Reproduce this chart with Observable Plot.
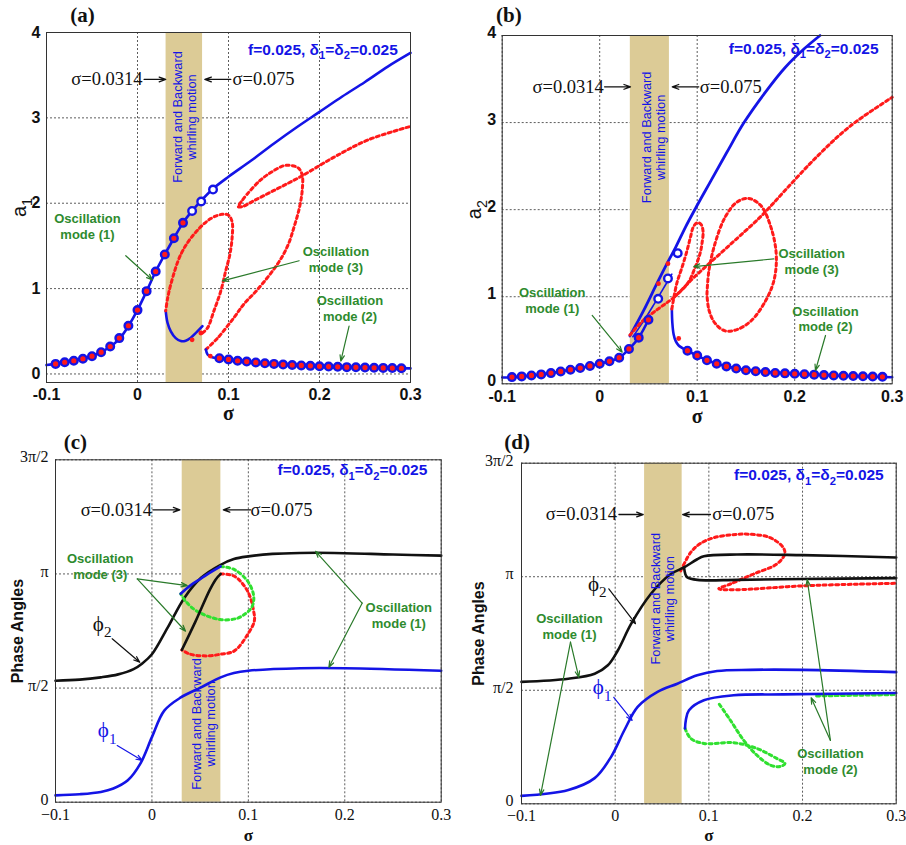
<!DOCTYPE html>
<html><head><meta charset="utf-8">
<script src="https://cdn.jsdelivr.net/npm/d3@7"></script>
<script src="https://cdn.jsdelivr.net/npm/@observablehq/plot@0.6"></script>
<style>
html,body{margin:0;padding:0;background:#fff;}
#fig{position:relative;width:906px;height:845px;overflow:hidden;background:#fff;}
#fig svg{position:absolute;}
</style></head><body><div id="fig"></div>
<script>
// ---------- ticks ----------
const sigmaTicks = [-0.1, 0, 0.1, 0.2, 0.3];
const sigmaLabelsSans = ["-0.1", "0", "0.1", "0.2", "0.3"];
const sigmaLabelsSerif = ["\u22120.1", "0", "0.1", "0.2", "0.3"];
const ampTicks = [0, 1, 2, 3, 4];
const ampLabels = ["0", "1", "2", "3", "4"];
const phaseTicks = [0, 0.5, 1, 1.5]; // multiples of π
const phaseLabels = ["0", "π/2", "π", "3π/2"];
const whirlBand = [0.0314, 0.0715];

// ---------- panel (a): a1 vs sigma ----------
const a1Upper = [[-0.1,0.105],[-0.09,0.118],[-0.08,0.137],[-0.07,0.157],[-0.06,0.18],[-0.05,0.21],[-0.04,0.255],[-0.03,0.318],[-0.02,0.41],[-0.01,0.56],[0,0.75],[0.01,0.97],[0.02,1.2],[0.03,1.4],[0.04,1.59],[0.05,1.77],[0.06,1.91],[0.07,2.03],[0.083,2.17],[0.1,2.31],[0.125,2.5],[0.15,2.7],[0.175,2.89],[0.2,3.07],[0.225,3.25],[0.25,3.42],[0.275,3.6],[0.3,3.76]];
const a1IsolaStable = [[0.031,0.74],[0.033,0.6],[0.0366,0.5],[0.042,0.42],[0.0476,0.385],[0.053,0.39],[0.0586,0.425],[0.065,0.49],[0.0714,0.56]];
const a1IsolaUnstable = [[0.0714,0.48],[0.077,0.54],[0.084,0.74],[0.0915,0.97],[0.097,1.21],[0.1015,1.4],[0.104,1.6],[0.104,1.78],[0.1,1.86],[0.093,1.87],[0.0805,1.82],[0.0623,1.64],[0.0476,1.4],[0.0366,1.05],[0.033,0.88],[0.031,0.74]];
const a1FoldUnstable = [[0.0752,0.287],[0.088,0.42],[0.106,0.66],[0.117,0.82],[0.132,0.99],[0.154,1.29],[0.165,1.5],[0.172,1.72],[0.178,1.95],[0.181,2.15],[0.181,2.33],[0.177,2.41],[0.17,2.44],[0.161,2.44],[0.148,2.37],[0.135,2.27],[0.12,2.1],[0.1135,2.01],[0.1106,1.96],[0.115,1.96],[0.128,2.03],[0.15,2.15],[0.179,2.31],[0.216,2.54],[0.253,2.74],[0.3,2.9]];
const a1LowerStable = [[0.0752,0.287],[0.077,0.228],[0.082,0.196],[0.09,0.182],[0.1,0.17],[0.12,0.145],[0.15,0.118],[0.2,0.09],[0.25,0.075],[0.3,0.065]];
const a1MarksFilled = [[-0.09,0.118],[-0.08,0.137],[-0.07,0.155],[-0.06,0.178],[-0.05,0.208],[-0.04,0.255],[-0.03,0.322],[-0.02,0.42],[-0.01,0.565],[0,0.748],[0.01,0.97],[0.02,1.2],[0.03,1.4],[0.04,1.59],[0.05,1.77]];
const a1MarksOpen = [[0.06,1.91],[0.07,2.02],[0.083,2.16]];
const a1MarksMode2 = [[0.09,0.185],[0.1,0.17],[0.11,0.155],[0.12,0.145],[0.13,0.135],[0.14,0.125],[0.15,0.118],[0.16,0.11],[0.17,0.105],[0.18,0.1],[0.19,0.095],[0.2,0.09],[0.21,0.087],[0.22,0.084],[0.23,0.08],[0.24,0.078],[0.25,0.075],[0.26,0.073],[0.27,0.071],[0.28,0.069],[0.29,0.067]];
const a1RedPoints = [[0.06,0.4],[0.0696,0.48],[0.08,0.21]];

// ---------- panel (b): a2 vs sigma ----------
const a2LowerRise = [[-0.1,0.072],[-0.09,0.077],[-0.08,0.085],[-0.07,0.096],[-0.06,0.108],[-0.05,0.123],[-0.04,0.142],[-0.03,0.162],[-0.02,0.181],[-0.01,0.205],[0,0.23],[0.01,0.258],[0.02,0.3],[0.03,0.4],[0.04,0.53],[0.05,0.735]];
const a2Thin = [[0.034,0.54],[0.045,0.72],[0.055,0.9],[0.064,1.07],[0.074,1.26]];
const a2Upper = [[0.031,0.55],[0.045,0.84],[0.0586,1.15],[0.069,1.38],[0.078,1.57],[0.088,1.8],[0.1,2.05],[0.114,2.33],[0.13,2.65],[0.148,3.0],[0.17,3.35],[0.19,3.63],[0.21,3.85],[0.226,4.0]];
const a2LowerStable = [[0.074,0.86],[0.0745,0.7],[0.0758,0.57],[0.078,0.49],[0.081,0.44],[0.0896,0.38],[0.1,0.325],[0.11,0.27],[0.12,0.232],[0.13,0.2],[0.15,0.158],[0.2,0.115],[0.25,0.092],[0.3,0.075]];
const a2FoldUnstable = [[0.074,0.86],[0.079,1.15],[0.0845,1.34],[0.0896,1.53],[0.093,1.68],[0.096,1.8],[0.1,1.85],[0.104,1.83],[0.106,1.75],[0.105,1.62],[0.103,1.5],[0.098,1.34],[0.09,1.15],[0.0758,0.99]];
const a2LongUnstable = [[0.031,0.56],[0.0448,0.73],[0.06,0.86],[0.0758,0.99],[0.0965,1.22],[0.131,1.57],[0.166,1.93],[0.19,2.22],[0.222,2.6],[0.257,2.96],[0.3,3.29]];
const a2Isola = [[0.11,1.03],[0.112,1.3],[0.118,1.6],[0.128,1.9],[0.14,2.08],[0.152,2.13],[0.165,2.05],[0.175,1.82],[0.181,1.5],[0.179,1.2],[0.17,0.95],[0.155,0.72],[0.14,0.62],[0.128,0.61],[0.118,0.7],[0.112,0.85],[0.11,1.03]];
const a2MarksFilled = [[-0.09,0.077],[-0.08,0.085],[-0.07,0.096],[-0.06,0.108],[-0.05,0.123],[-0.04,0.142],[-0.03,0.162],[-0.02,0.181],[-0.01,0.205],[0,0.23],[0.01,0.258],[0.02,0.3],[0.03,0.4],[0.04,0.53],[0.05,0.735]];
const a2MarksOpen = [[0.06,0.976],[0.07,1.21],[0.08,1.5]];
const a2MarksMode2 = [[0.09,0.38],[0.1,0.325],[0.11,0.27],[0.12,0.23],[0.13,0.2],[0.14,0.175],[0.15,0.155],[0.16,0.145],[0.17,0.135],[0.18,0.125],[0.19,0.12],[0.2,0.115],[0.21,0.11],[0.22,0.105],[0.23,0.1],[0.24,0.096],[0.25,0.092],[0.26,0.089],[0.27,0.086],[0.28,0.083],[0.29,0.08]];
const a2RedPoints = [[0.0603,1.15],[0.07,1.38],[0.081,0.52]];

// ---------- panel (c): phase angles (units of π) ----------
const cPhi2 = [[-0.1,0.532],[-0.075,0.537],[-0.053,0.547],[-0.035,0.56],[-0.019,0.583],[-0.01,0.608],[0,0.648],[0.0163,0.765],[0.0336,0.895],[0.051,0.983],[0.0713,1.04],[0.085,1.065],[0.1,1.077],[0.125,1.088],[0.154,1.092],[0.189,1.092],[0.25,1.085],[0.3,1.08]];
const cPhi1 = [[-0.1,0.03],[-0.075,0.035],[-0.053,0.045],[-0.04,0.06],[-0.025,0.096],[-0.012,0.169],[0,0.285],[0.0128,0.401],[0.03,0.459],[0.051,0.503],[0.0713,0.547],[0.085,0.566],[0.1,0.576],[0.154,0.587],[0.2,0.587],[0.3,0.576]];
const cBlueArc = [[0.0298,0.913],[0.04,0.95],[0.051,0.98],[0.062,1.01],[0.0713,1.033]];
const cBlackArc = [[0.031,0.667],[0.045,0.79],[0.06,0.93],[0.066,0.975],[0.0713,1.0]];
const cGreenLoop = [[0.0713,1.033],[0.0855,1.019],[0.0993,0.968],[0.1053,0.91],[0.105,0.87],[0.102,0.845],[0.095,0.82],[0.088,0.805],[0.0708,0.8],[0.0466,0.837],[0.035,0.88],[0.0298,0.913]];
const cRedLoop = [[0.0713,1.0],[0.0855,0.99],[0.0993,0.924],[0.1055,0.837],[0.1062,0.794],[0.0993,0.735],[0.0855,0.663],[0.0708,0.648],[0.0578,0.641],[0.04,0.648],[0.031,0.667]];

// ---------- panel (d): phase angles (units of π) ----------
const dPhi2 = [[-0.1,0.537],[-0.05,0.551],[-0.0219,0.573],[-0.0078,0.61],[0.0028,0.675],[0.017,0.792],[0.038,0.924],[0.0594,1.012],[0.0735,1.041],[0.0876,1.077],[0.0947,1.09],[0.13,1.098],[0.2,1.095],[0.3,1.085]];
const dPhi2Lower = [[0.0735,1.041],[0.075,1.01],[0.077,0.997],[0.0877,0.986],[0.13,0.986],[0.2,0.99],[0.3,0.994]];
const dRedLoop = [[0.07,1.026],[0.0806,1.107],[0.0905,1.145],[0.1053,1.172],[0.125,1.185],[0.144,1.187],[0.1654,1.172],[0.1795,1.128],[0.181,1.1],[0.1725,1.056],[0.1477,1.012],[0.123,0.968],[0.1106,0.947],[0.13,0.943],[0.2007,0.96],[0.3,0.971]];
const dPhi1 = [[-0.1,0.035],[-0.05,0.061],[-0.0219,0.113],[-0.0042,0.208],[0.0099,0.325],[0.024,0.427],[0.0452,0.493],[0.0664,0.529],[0.0876,0.566],[0.1088,0.585],[0.144,0.59],[0.2,0.59],[0.3,0.58]];
const dPhi1Lower = [[0.0746,0.332],[0.0755,0.37],[0.0788,0.412],[0.0947,0.456],[0.1265,0.478],[0.1795,0.482],[0.3,0.488]];
const dGreenLoop = [[0.0746,0.332],[0.0806,0.288],[0.0947,0.266],[0.1265,0.269],[0.151,0.244],[0.1724,0.2],[0.1813,0.178],[0.176,0.164],[0.1654,0.171],[0.151,0.215],[0.137,0.281],[0.123,0.368],[0.1106,0.442]];
const dGreenRight = [[0.215,0.475],[0.3,0.481]];

// ---------- styling ----------
const BLUE = "#1414e6", RED = "#ff1a1a", GREEN_CURVE = "#30e030", TEXT_GREEN = "#2e8b2e",
      ARROW_GREEN = "#2a7a2a", BAND = "#dccb96", BLACK = "#111";
const SANS = "'Liberation Sans', Arial, sans-serif";
const SERIF = "'Liberation Serif', 'Times New Roman', serif";
const xy = {x: d => d[0], y: d => d[1]};
const solid = (data, stroke, strokeWidth = 2.6) => Plot.line(data, {...xy, stroke, strokeWidth, curve: "catmull-rom", strokeLinecap: "round", strokeLinejoin: "round"});
const dotted = (data, stroke) => Plot.line(data, {...xy, stroke, strokeWidth: 3, strokeDasharray: "3,3.2", curve: "catmull-rom"});
const markers = (data, fill) => Plot.dot(data, {...xy, r: 3.8, stroke: BLUE, strokeWidth: 2.4, fill});
const redPts = data => Plot.dot(data, {...xy, r: 2.4, fill: RED});
const arrows = (list, stroke, w = 1.2) => Plot.arrow(list, {x1: "x1", y1: "y1", x2: "x2", y2: "y2", stroke, strokeWidth: w, headLength: 8, headAngle: 40});
const greenNotes = list => Plot.text(list, {x: "x", y: "y", text: "t", fill: TEXT_GREEN, fontFamily: SANS, fontWeight: "bold", fontSize: 13, lineHeight: 1.22, textAnchor: "middle", lineAnchor: "middle"});
const fNote = (x, y) => Plot.text(["f=0.025, δ_1=δ_2=0.025"], {x: () => x, y: () => y, text: d => d, fill: BLUE, fontFamily: SANS, fontWeight: "bold", fontSize: 15.5, textAnchor: "end", lineAnchor: "middle"});
const sigmaNotes = (xEnd, xStart, y) => [
  Plot.text(["σ=0.0314"], {x: () => xEnd, y: () => y, text: d => d, fill: BLACK, fontFamily: SERIF, fontSize: 18.5, textAnchor: "end", lineAnchor: "middle"}),
  Plot.text(["σ=0.075"], {x: () => xStart, y: () => y, text: d => d, fill: BLACK, fontFamily: SERIF, fontSize: 18.5, textAnchor: "start", lineAnchor: "middle"})
];
const bandNote = (x, y) => Plot.text(["Forward and Backward\nwhirling motion"], {x: () => x, y: () => y, text: d => d, rotate: -90, fill: BLUE, fontFamily: SANS, fontSize: 12.8, lineHeight: 1.1, textAnchor: "middle", lineAnchor: "middle"});
const panelLabel = (t, x, y) => Plot.text([t], {x: () => x, y: () => y, text: d => d, fill: BLACK, fontFamily: SERIF, fontWeight: "bold", fontSize: 21, textAnchor: "middle", lineAnchor: "middle"});
const phiNote = (t, x, y, fill) => Plot.text([t], {x: () => x, y: () => y, text: d => d, fill, fontFamily: SERIF, fontSize: 21, textAnchor: "middle", lineAnchor: "middle"});

const fig = document.getElementById("fig");

function subscriptify(svg) {
  svg.querySelectorAll("text").forEach(t => {
    if (t.children.length) return;
    const s = t.textContent;
    if (!s.includes("_")) return;
    const fs = parseFloat(getComputedStyle(t).fontSize) || 14;
    const shift = (0.32 * fs).toFixed(2);
    t.textContent = "";
    s.split(/_(\w)/).forEach((p, i) => {
      if (!p) return;
      const ts = document.createElementNS("http://www.w3.org/2000/svg", "tspan");
      ts.textContent = p;
      if (i % 2 === 1) { ts.setAttribute("dy", shift); ts.setAttribute("font-size", (0.72 * fs).toFixed(2)); }
      else if (i > 0) ts.setAttribute("dy", -shift);
      t.appendChild(ts);
    });
  });
}

function buildPanel(cfg) {
  const [yLo, yHi] = cfg.yDomain;
  const svg = Plot.plot({
    width: cfg.width, height: cfg.height,
    marginLeft: cfg.m[0], marginRight: cfg.m[1], marginTop: cfg.m[2], marginBottom: cfg.m[3],
    x: {domain: [-0.1, 0.3], axis: null},
    y: {domain: cfg.yDomain, axis: null},
    style: {background: "transparent", overflow: "visible"},
    marks: [
      Plot.ruleX(sigmaTicks, {x: d => d, stroke: "#333", strokeWidth: 0.8, strokeDasharray: "2,2"}),
      Plot.ruleY(cfg.yTicks, {y: d => d, stroke: "#333", strokeWidth: 0.8, strokeDasharray: "2,2"}),
      Plot.rect([whirlBand], {x1: d => d[0], x2: d => d[1], y1: () => yLo, y2: () => yHi, fill: BAND}),
      ...cfg.marks,
      Plot.frame({stroke: "#333", strokeWidth: 1}),
      Plot.text(sigmaTicks, {x: d => d, frameAnchor: "bottom", dy: cfg.xTickDy, text: (d, i) => cfg.xLabels[i], lineAnchor: "middle", fill: BLACK, ...cfg.tickFont}),
      Plot.text(cfg.yTicks, {y: d => d, frameAnchor: "left", dx: cfg.yTickDx, dy: cfg.yTickDy, text: (d, i) => cfg.yLabels[i], textAnchor: "end", lineAnchor: "middle", fill: BLACK, ...cfg.tickFont}),
      Plot.text(["σ"], {frameAnchor: "bottom", dy: cfg.xLabelDy, text: d => d, lineAnchor: "middle", fill: BLACK, fontFamily: SERIF, fontWeight: "bold", fontSize: cfg.xLabelSize}),
      Plot.text([cfg.yLabel], {frameAnchor: "left", dx: cfg.yLabelDx, rotate: -90, text: d => d, lineAnchor: "middle", textAnchor: "middle", fill: BLACK, ...cfg.yLabelFont})
    ]
  });
  svg.style.left = cfg.left + "px";
  svg.style.top = cfg.top + "px";
  fig.appendChild(svg);
  subscriptify(svg);
}

const sansTicks = {fontFamily: SANS, fontWeight: "bold", fontSize: 16};
const serifTicks = {fontFamily: SERIF, fontSize: 16};

// (a)
buildPanel({
  left: 0, top: 0, width: 453, height: 423, m: [46, 43, 32, 41],
  yDomain: [-0.1, 4], yTicks: ampTicks, yLabels: ampLabels, xLabels: sigmaLabelsSans,
  tickFont: sansTicks, xTickDy: 12, yTickDx: -6, yTickDy: 0, xLabelDy: 31, xLabelSize: 20, yLabelDx: -27,
  yLabel: "a_1", yLabelFont: {fontFamily: SANS, fontSize: 20},
  marks: [
    solid(a1Upper, BLUE),
    solid(a1IsolaStable, BLUE),
    dotted(a1IsolaUnstable, RED),
    dotted(a1FoldUnstable, RED),
    solid(a1LowerStable, BLUE),
    markers(a1MarksFilled, RED),
    markers(a1MarksOpen, "white"),
    markers(a1MarksMode2, RED),
    redPts(a1RedPoints),
    fNote(0.286, 3.8),
    ...sigmaNotes(0.0055, 0.1044, 3.45),
    arrows([{x1: 0.0073, y1: 3.45, x2: 0.031, y2: 3.45}, {x1: 0.1025, y1: 3.45, x2: 0.074, y2: 3.45}], BLACK, 1.3),
    bandNote(0.0513, 3.01),
    greenNotes([{x: -0.055, y: 1.735, t: "Oscillation\nmode (1)"}, {x: 0.218, y: 1.35, t: "Oscillation\nmode (3)"}, {x: 0.2335, y: 0.77, t: "Oscillation\nmode (2)"}]),
    arrows([{x1: -0.0129, y1: 1.385, x2: 0.0165, y2: 1.1}, {x1: 0.1776, y1: 1.326, x2: 0.0934, y2: 1.09}, {x1: 0.2325, y1: 0.56, x2: 0.2234, y2: 0.15}], ARROW_GREEN),
    panelLabel("(a)", -0.0604, 4.2)
  ]
});

// (b)
buildPanel({
  left: 453, top: 0, width: 453, height: 423, m: [48.7, 14.3, 35, 39.7],
  yDomain: [0, 4], yTicks: ampTicks, yLabels: ampLabels, xLabels: sigmaLabelsSans,
  tickFont: sansTicks, xTickDy: 13.5, yTickDx: -6, yTickDy: -2.5, xLabelDy: 33, xLabelSize: 20, yLabelDx: -28,
  yLabel: "a_2", yLabelFont: {fontFamily: SANS, fontSize: 20},
  marks: [
    solid(a2LowerRise, BLUE),
    solid(a2Thin, BLUE, 1.6),
    solid(a2Upper, BLUE, 2.8),
    solid(a2LowerStable, BLUE),
    dotted(a2FoldUnstable, RED),
    dotted(a2LongUnstable, RED),
    dotted(a2Isola, RED),
    markers(a2MarksFilled, RED),
    markers(a2MarksOpen, "white"),
    markers(a2MarksMode2, RED),
    redPts(a2RedPoints),
    fNote(0.286, 3.85),
    ...sigmaNotes(0.0042, 0.1027, 3.41),
    arrows([{x1: 0.005, y1: 3.41, x2: 0.0316, y2: 3.41}, {x1: 0.1016, y1: 3.41, x2: 0.0744, y2: 3.41}], BLACK, 1.3),
    bandNote(0.0547, 2.83),
    greenNotes([{x: -0.0487, y: 0.965, t: "Oscillation\nmode (1)"}, {x: 0.2174, y: 1.41, t: "Oscillation\nmode (3)"}, {x: 0.2316, y: 0.75, t: "Oscillation\nmode (2)"}]),
    arrows([{x1: -0.0077, y1: 0.785, x2: 0.0231, y2: 0.363}, {x1: 0.1786, y1: 1.435, x2: 0.0965, y2: 1.346}, {x1: 0.2316, y1: 0.555, x2: 0.2213, y2: 0.153}], ARROW_GREEN),
    panelLabel("(b)", -0.0932, 4.23)
  ]
});

// (c)
buildPanel({
  left: 0, top: 423, width: 453, height: 422, m: [55, 12.3, 36.3, 43.3],
  yDomain: [0, 1.5], yTicks: phaseTicks, yLabels: phaseLabels, xLabels: sigmaLabelsSerif,
  tickFont: serifTicks, xTickDy: 13, yTickDx: -7, yTickDy: -2.5, xLabelDy: 33, xLabelSize: 17, yLabelDx: -38,
  yLabel: "Phase Angles", yLabelFont: {fontFamily: SANS, fontWeight: "bold", fontSize: 16},
  marks: [
    solid(cPhi2, BLACK),
    solid(cPhi1, BLUE),
    dotted(cRedLoop, RED),
    dotted(cGreenLoop, GREEN_CURVE),
    solid(cBlackArc, BLACK),
    solid(cBlueArc, BLUE),
    fNote(0.2856, 1.453),
    ...sigmaNotes(0.0, 0.1023, 1.281),
    arrows([{x1: 0.001, y1: 1.281, x2: 0.029, y2: 1.281}, {x1: 0.1023, y1: 1.281, x2: 0.074, y2: 1.281}], BLACK, 1.3),
    bandNote(0.0538, 0.343),
    greenNotes([{x: -0.0536, y: 1.035, t: "Oscillation\nmode (3)"}, {x: 0.256, y: 0.822, t: "Oscillation\nmode (1)"}]),
    arrows([{x1: -0.0152, y1: 0.978, x2: 0.0366, y2: 0.949}, {x1: -0.0152, y1: 0.978, x2: 0.0349, y2: 0.749}, {x1: 0.218, y1: 0.872, x2: 0.1697, y2: 1.099}, {x1: 0.218, y1: 0.872, x2: 0.1835, y2: 0.591}], ARROW_GREEN),
    phiNote("ϕ_2", -0.0516, 0.781, BLACK),
    phiNote("ϕ_1", -0.0464, 0.314, BLUE),
    arrows([{x1: -0.0412, y1: 0.716, x2: -0.0126, y2: 0.613}], BLACK),
    arrows([{x1: -0.036, y1: 0.248, x2: -0.01, y2: 0.183}], BLUE),
    panelLabel("(c)", -0.0793, 1.577)
  ]
});

// (d)
buildPanel({
  left: 453, top: 423, width: 453, height: 422, m: [68, 10.3, 39.7, 41.7],
  yDomain: [0, 1.5], yTicks: phaseTicks, yLabels: phaseLabels, xLabels: sigmaLabelsSerif,
  tickFont: serifTicks, xTickDy: 12.5, yTickDx: -8, yTickDy: -2.5, xLabelDy: 32, xLabelSize: 17, yLabelDx: -43,
  yLabel: "Phase Angles", yLabelFont: {fontFamily: SANS, fontWeight: "bold", fontSize: 16},
  marks: [
    dotted(dRedLoop, RED),
    solid(dPhi2, BLACK),
    solid(dPhi2Lower, BLACK),
    dotted(dGreenLoop, GREEN_CURVE),
    dotted(dGreenRight, GREEN_CURVE),
    solid(dPhi1, BLUE),
    solid(dPhi1Lower, BLUE),
    fNote(0.2867, 1.446),
    ...sigmaNotes(0.002, 0.1035, 1.274),
    arrows([{x1: 0.004, y1: 1.274, x2: 0.0299, y2: 1.274}, {x1: 0.1017, y1: 1.274, x2: 0.0721, y2: 1.274}], BLACK, 1.3),
    bandNote(0.0502, 0.903),
    greenNotes([{x: -0.0488, y: 0.782, t: "Oscillation\nmode (1)"}, {x: 0.2298, y: 0.188, t: "Oscillation\nmode (2)"}]),
    arrows([{x1: -0.0477, y1: 0.712, x2: -0.0797, y2: 0.037}, {x1: -0.0477, y1: 0.712, x2: -0.0388, y2: 0.557}, {x1: 0.2298, y1: 0.279, x2: 0.205, y2: 0.987}, {x1: 0.2298, y1: 0.279, x2: 0.2092, y2: 0.467}], ARROW_GREEN),
    phiNote("ϕ_2", -0.0192, 0.969, BLACK),
    phiNote("ϕ_1", -0.0139, 0.513, BLUE),
    arrows([{x1: -0.0068, y1: 0.947, x2: 0.0217, y2: 0.793}], BLACK),
    arrows([{x1: -0.0015, y1: 0.469, x2: 0.0181, y2: 0.367}], BLUE),
    panelLabel("(d)", -0.1046, 1.592)
  ]
});
</script></body></html>
